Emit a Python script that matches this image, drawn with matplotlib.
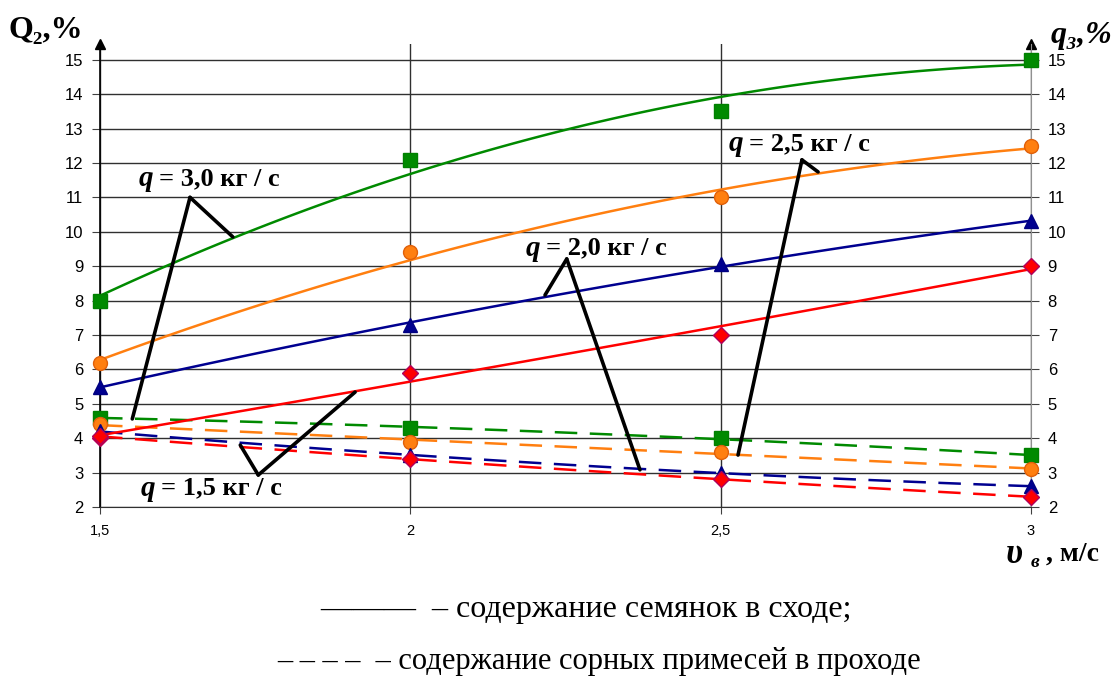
import numpy as np
import matplotlib
matplotlib.use('Agg')
import matplotlib.pyplot as plt

# скорость воздуха, м/с
v = [1.5, 2.0, 2.5, 3.0]
xlabels = ['1,5', '2', '2,5', '3']

# Q2 - содержание семянок в сходе, %
Q2_30 = [8.0, 12.1, 13.5, 15.0]
Q2_25 = [6.2, 9.4, 11.0, 12.5]
Q2_20 = [5.5, 7.3, 9.05, 10.3]
Q2_15 = [4.0, 5.9, 7.0, 9.0]

# q3 - содержание сорных примесей в проходе, %
q3_30 = [4.6, 4.3, 4.0, 3.5]
q3_25 = [4.4, 3.9, 3.6, 3.1]
q3_20 = [4.2, 3.5, 3.0, 2.6]
q3_15 = [4.05, 3.4, 2.8, 2.3]

series = [
    (Q2_30, q3_30, '#008a00', 's', '#008000'),
    (Q2_25, q3_25, '#ff7f10', 'o', '#e0600a'),
    (Q2_20, q3_20, '#000090', '^', '#000080'),
    (Q2_15, q3_15, '#ff0000', 'D', '#b0005a'),
]

# подписи: текст, положение текста, вершина, концы выносок
labels = [
    ('3,0', (1.562, 11.55), (1.645, 11.0), [(1.714, 9.85), (1.552, 4.56)]),
    ('1,5', (1.565, 2.55), (1.755, 2.93), [(1.726, 3.80), (1.911, 5.34)]),
    ('2,0', (2.186, 9.52), (2.252, 9.21), [(2.217, 8.16), (2.370, 3.08)]),
    ('2,5', (2.513, 12.57), (2.631, 12.09), [(2.657, 11.74), (2.528, 3.51)]),
]

fig = plt.figure(figsize=(11.2, 6.76), dpi=100)
ax = fig.add_axes([0.0893, 0.25, 0.8312, 0.6845])

xs = np.linspace(1.5, 3.0, 100)
for Q2, q3, col, mk, edge in series:
    for vals, ls in ((Q2, '-'), (q3, (0, (9, 5)))):
        k = np.polyfit(v, vals, 2)
        ax.plot(xs, np.polyval(k, xs), color=col, lw=1.8, ls=ls, zorder=3)
        ax.plot(v, vals, ls='none', marker=mk, ms=10 if mk != 'D' else 8,
                color=col, mec=edge, mew=1, clip_on=False, zorder=4)

ax.set_xlim(1.5, 3.0)
ax.set_ylim(2, 15.45)
ax.set_xticks(v)
ax.set_xticklabels(xlabels, fontsize=10.5, family='Liberation Sans')
ax.set_yticks(range(2, 16))
ax.tick_params(axis='y', labelsize=12, length=6, direction='out', pad=6,
               right=True, labelright=True, color='#404040')
ax.tick_params(axis='x', length=5, pad=7, color='#404040')
for t in ax.get_yticklabels():
    t.set_family('Liberation Sans')
ax.grid(True, color='#303030', lw=1)
ax.set_axisbelow(True)
ax.spines['top'].set_visible(False)
ax.spines['bottom'].set_color('#303030')
ax.spines['left'].set_color('black')
ax.spines['left'].set_linewidth(1.2)
ax.spines['right'].set_color('#909090')

# стрелки осей
ax.plot([0], [1.0], marker='^', color='black', ms=7, transform=ax.transAxes, clip_on=False)
ax.plot([1], [1.0], marker='^', color='black', ms=7, transform=ax.transAxes, clip_on=False)

for num, txt, apex, ends in labels:
    for e in ends:
        ax.annotate('', xy=e, xytext=apex,
                    arrowprops=dict(arrowstyle='-', color='black', lw=2.6,
                                    shrinkA=0, shrinkB=0), zorder=5)
    ax.text(txt[0], txt[1], 'q', fontsize=21, family='Liberation Serif',
            style='italic', weight='bold', va='center', zorder=6)
    ax.text(txt[0] + 0.033, txt[1], '= ' + num + ' кг / с', fontsize=19,
            family='Liberation Serif', weight='bold', va='center', zorder=6)

# подписи осей
fig.text(0.008, 0.955, 'Q₂,%', fontsize=23, family='Liberation Serif',
         weight='bold', va='center')
fig.text(0.938, 0.948, 'q₃,%', fontsize=23, family='Liberation Serif',
         weight='bold', style='italic', va='center')
fig.text(0.898, 0.180, 'υ', fontsize=25, family='Liberation Serif',
         weight='bold', style='italic', va='center')
fig.text(0.920, 0.168, 'в', fontsize=14, family='Liberation Serif',
         weight='bold', style='italic', va='center')
fig.text(0.934, 0.180, ', м/с', fontsize=20, family='Liberation Serif',
         weight='bold', va='center')

# условные обозначения
fig.text(0.523, 0.099, '———  – содержание семянок в сходе;', fontsize=23,
         family='Liberation Serif', ha='center', va='center')
fig.text(0.535, 0.022, '– – – –  – содержание сорных примесей в проходе', fontsize=22,
         family='Liberation Serif', ha='center', va='center')

fig.savefig('out.png', dpi=100)
